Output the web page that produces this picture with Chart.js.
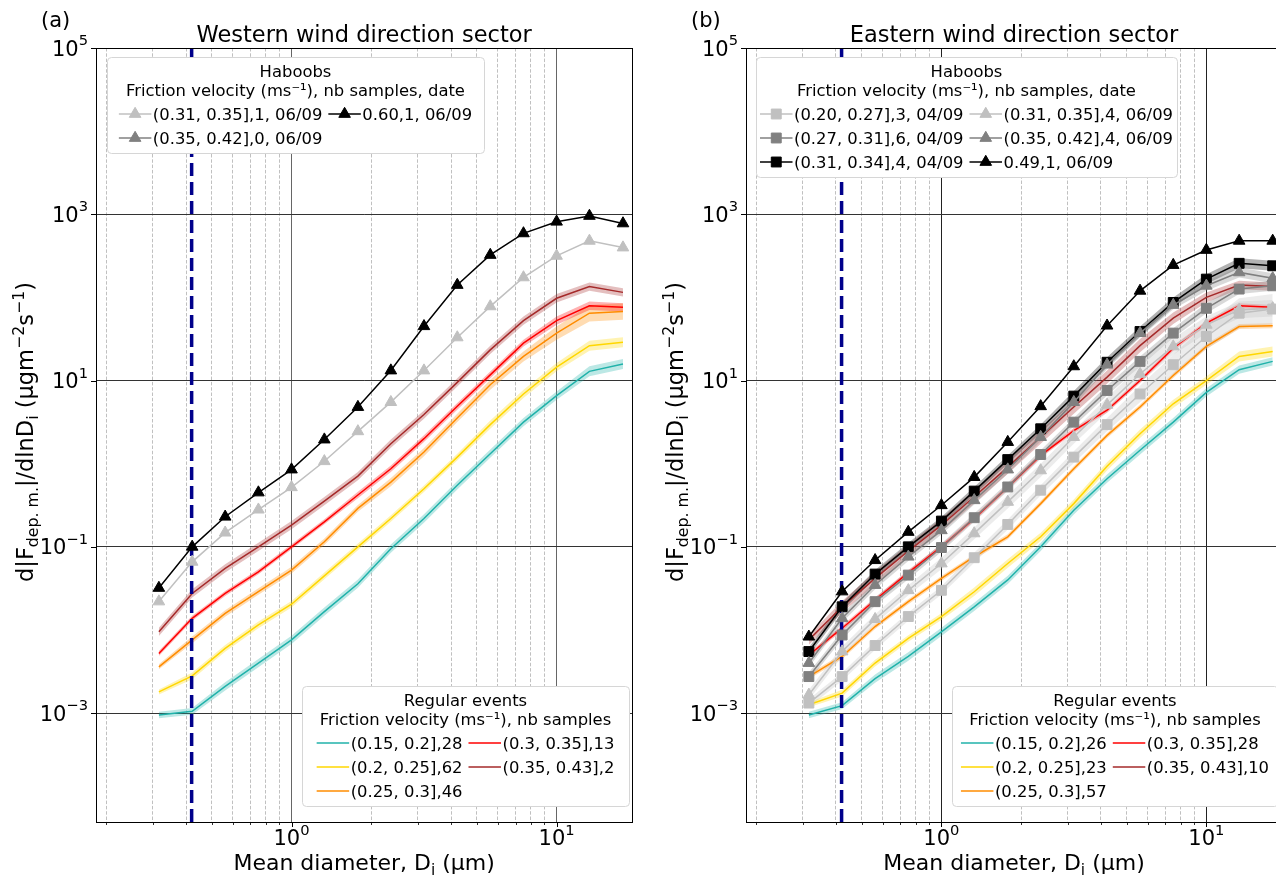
<!DOCTYPE html>
<html>
<head>
<meta charset="utf-8">
<script src="https://cdn.jsdelivr.net/npm/chart.js@4.4.0/dist/chart.umd.min.js"></script>
<style>
html, body { margin: 0; padding: 0; background: #fff; overflow: hidden; width: 1276px; height: 875px; }
#wrap { position: relative; width: 1276px; height: 875px; overflow: hidden; }
#west { position: absolute; left: 0; top: 0; }
#east { position: absolute; left: 640px; top: 0; }
</style>
</head>
<body>
<div id="wrap">
  <canvas id="west" width="640" height="875"></canvas>
  <canvas id="east" width="650" height="875"></canvas>
</div>
<script>
// size bins, mean diameter (µm)
var diam = [0.316, 0.422, 0.562, 0.750, 1.00, 1.33, 1.78, 2.37, 3.16, 4.22, 5.62, 7.50, 10.0, 13.3, 17.8];
var cutoff = 0.42;

var xTicksMajor = [1, 10];
var xTicksMinor = [0.2, 0.3, 0.4, 0.5, 0.6, 0.7, 0.8, 0.9, 2, 3, 4, 5, 6, 7, 8, 9];
var yTicks = [1e-3, 1e-1, 1e1, 1e3, 1e5];
var xRange = [0.183, 19.3];
var yRange = [4.9e-5, 1e5];

// western sector - regular events (mean and band half-width in decades)
var wRegLabels = ['(0.15, 0.2],28', '(0.2, 0.25],62', '(0.25, 0.3],46', '(0.3, 0.35],13', '(0.35, 0.43],2'];
var wTeal   = [0.00095, 0.00105, 0.0021, 0.004, 0.0076, 0.0166, 0.036, 0.095, 0.219, 0.55, 1.32, 3.16, 6.6, 12.9, 15.8];
var wGold   = [0.0018, 0.0028, 0.006, 0.0115, 0.0204, 0.0447, 0.10, 0.219, 0.50, 1.2, 2.95, 6.9, 14.5, 26.3, 28.8];
var wOrange = [0.0036, 0.0076, 0.0158, 0.029, 0.0525, 0.115, 0.29, 0.60, 1.38, 3.55, 8.9, 19.5, 37.2, 64.6, 67.6];
var wRed    = [0.0052, 0.0138, 0.0275, 0.050, 0.10, 0.20, 0.42, 0.87, 2.0, 4.9, 11.7, 28.2, 52.5, 79.4, 75.9];
var wBrown  = [0.0095, 0.0275, 0.055, 0.10, 0.182, 0.355, 0.71, 1.74, 3.9, 9.5, 23.4, 52.5, 97.7, 135, 115];
var wTealSd   = [0.04, 0.04, 0.05, 0.05, 0.05, 0.05, 0.05, 0.05, 0.05, 0.05, 0.05, 0.05, 0.05, 0.06, 0.06];
var wGoldSd   = [0.03, 0.04, 0.04, 0.04, 0.04, 0.04, 0.04, 0.04, 0.04, 0.04, 0.05, 0.05, 0.05, 0.06, 0.06];
var wOrangeSd = [0.03, 0.04, 0.04, 0.04, 0.04, 0.04, 0.04, 0.05, 0.05, 0.05, 0.06, 0.06, 0.08, 0.10, 0.10];
var wRedSd    = [0.03, 0.03, 0.03, 0.03, 0.03, 0.03, 0.04, 0.04, 0.04, 0.04, 0.04, 0.04, 0.05, 0.05, 0.05];
var wBrownSd  = [0.05, 0.05, 0.05, 0.05, 0.05, 0.05, 0.05, 0.05, 0.05, 0.05, 0.05, 0.05, 0.05, 0.05, 0.05];

// western sector - haboobs
var wHabLabels = ['(0.31, 0.35],1, 06/09', '(0.35, 0.42],0, 06/09', '0.60,1, 06/09'];
var wHabLight = [0.022, 0.066, 0.148, 0.28, 0.52, 1.07, 2.45, 5.5, 13.2, 33, 78, 174, 316, 479, 398];
var wHabGrey  = [];
var wHabBlack = [0.032, 0.10, 0.23, 0.45, 0.85, 1.95, 4.8, 13.2, 45, 141, 324, 589, 813, 955, 776];

// eastern sector - regular events
var eRegLabels = ['(0.15, 0.2],26', '(0.2, 0.25],23', '(0.25, 0.3],57', '(0.3, 0.35],28', '(0.35, 0.43],10'];
var eTeal   = [0.00095, 0.00123, 0.0026, 0.0048, 0.0095, 0.019, 0.04, 0.10, 0.275, 0.66, 1.45, 3.16, 7.2, 13.5, 17.0];
var eGold   = [0.00126, 0.00174, 0.004, 0.0079, 0.0145, 0.0288, 0.063, 0.132, 0.331, 0.93, 2.29, 5.25, 10, 19.5, 22.4];
var eOrange = [0.00275, 0.0048, 0.011, 0.0219, 0.0417, 0.076, 0.132, 0.331, 0.87, 2.19, 4.8, 11.5, 25.7, 44.7, 45.7];
var eRed    = [0.005, 0.0105, 0.0229, 0.049, 0.10, 0.219, 0.525, 1.26, 2.5, 4.4, 10, 24.5, 49, 79.4, 75.9];
var eBrown  = [0.0076, 0.019, 0.0417, 0.089, 0.182, 0.40, 0.91, 2.09, 4.8, 11.0, 26.3, 56.2, 100, 141, 135];
var eTealSd   = [0.04, 0.04, 0.05, 0.05, 0.05, 0.05, 0.05, 0.05, 0.05, 0.05, 0.05, 0.05, 0.05, 0.05, 0.05];
var eGoldSd   = [0.03, 0.04, 0.04, 0.04, 0.04, 0.05, 0.05, 0.05, 0.05, 0.05, 0.05, 0.05, 0.05, 0.06, 0.06];
var eOrangeSd = [0.03, 0.03, 0.03, 0.03, 0.03, 0.03, 0.03, 0.03, 0.03, 0.03, 0.03, 0.03, 0.03, 0.03, 0.03];
var eRedSd    = [0.03, 0.03, 0.03, 0.03, 0.03, 0.03, 0.03, 0.03, 0.03, 0.03, 0.03, 0.03, 0.03, 0.03, 0.03];
var eBrownSd  = [0.06, 0.07, 0.08, 0.08, 0.08, 0.08, 0.08, 0.08, 0.08, 0.08, 0.08, 0.07, 0.06, 0.05, 0.05];

// eastern sector - haboobs
var eHabLabels = ['(0.20, 0.27],3, 04/09', '(0.27, 0.31],6, 04/09', '(0.31, 0.34],4, 04/09',
                  '(0.31, 0.35],4, 06/09', '(0.35, 0.42],4, 06/09', '0.49,1, 06/09'];
var eSqLight  = [0.00132, 0.00275, 0.0065, 0.0145, 0.030, 0.074, 0.186, 0.48, 1.2, 2.95, 6.9, 15.5, 33.9, 64.6, 72.4];
var eSqGrey   = [0.00275, 0.0087, 0.0219, 0.0457, 0.098, 0.224, 0.525, 1.29, 3.16, 7.6, 17.0, 37.2, 74, 126, 138];
var eSqBlack  = [0.0055, 0.019, 0.047, 0.10, 0.204, 0.468, 1.12, 2.63, 6.5, 16.6, 38.9, 87, 166, 257, 240];
var eTriLight = [0.00166, 0.0055, 0.0135, 0.030, 0.063, 0.145, 0.347, 0.83, 2.09, 5.1, 12.0, 25.7, 46.8, 70.8, 74.1];
var eTriGrey  = [0.004, 0.0138, 0.0347, 0.076, 0.158, 0.363, 0.85, 2.09, 5.5, 15.5, 37.2, 81, 138, 200, 170];
var eTriBlack = [0.0083, 0.029, 0.069, 0.151, 0.316, 0.69, 1.82, 4.9, 14.8, 45.7, 120, 245, 372, 479, 479];
var eSqLightSd  = [0.05, 0.05, 0.05, 0.05, 0.05, 0.06, 0.06, 0.06, 0.07, 0.08, 0.10, 0.12, 0.15, 0.18, 0.18];
var eSqGreySd   = [0.05, 0.05, 0.05, 0.05, 0.05, 0.05, 0.05, 0.05, 0.05, 0.06, 0.06, 0.06, 0.06, 0.06, 0.06];
var eSqBlackSd  = [0.05, 0.05, 0.05, 0.05, 0.05, 0.05, 0.05, 0.05, 0.06, 0.06, 0.06, 0.06, 0.06, 0.06, 0.06];
var eTriLightSd = [0.06, 0.06, 0.06, 0.06, 0.07, 0.07, 0.08, 0.08, 0.08, 0.09, 0.10, 0.10, 0.10, 0.10, 0.10];
var eTriGreySd  = [0.05, 0.05, 0.05, 0.05, 0.05, 0.05, 0.05, 0.05, 0.05, 0.05, 0.05, 0.05, 0.06, 0.06, 0.06];

var FONT = '"DejaVu Sans", sans-serif';

// line styles
var sTeal   = { color: '#20b2aa', rgb: '32,178,170', lw: 1.5 };
var sGold   = { color: '#ffd700', rgb: '255,215,0', lw: 1.5 };
var sOrange = { color: '#ff8c00', rgb: '255,140,0', lw: 1.5 };
var sRed    = { color: '#ff0000', rgb: '255,0,0', lw: 1.5 };
var sBrown  = { color: '#a52a2a', rgb: '165,42,42', lw: 1.5 };
var sLightTri = { color: '#c0c0c0', rgb: '192,192,192', lw: 1.5, marker: 'triangle', r: 6.7 };
var sGreyTri  = { color: '#808080', rgb: '128,128,128', lw: 1.5, marker: 'triangle', r: 6.7 };
var sBlackTri = { color: '#000000', rgb: '0,0,0', lw: 1.5, marker: 'triangle', r: 6.7 };
var sLightSq  = { color: '#c0c0c0', rgb: '192,192,192', lw: 1.5, marker: 'rect', r: 7 };
var sGreySq   = { color: '#808080', rgb: '128,128,128', lw: 1.5, marker: 'rect', r: 7 };
var sBlackSq  = { color: '#000000', rgb: '0,0,0', lw: 1.5, marker: 'rect', r: 7 };

function pts(vals) {
  return vals.map(function (v, i) { return { x: diam[i], y: v }; });
}

function lineSet(vals, st) {
  return {
    data: pts(vals), borderColor: st.color, backgroundColor: st.color, borderWidth: st.lw,
    pointRadius: st.marker ? st.r : 0, pointStyle: st.marker || 'circle',
    pointBackgroundColor: st.color, pointBorderColor: st.color, pointBorderWidth: 1,
    fill: false, tension: 0
  };
}

// std band drawn as two invisible lines filled in between
function bandSets(vals, sd, st, idx) {
  var lo = vals.map(function (v, i) { return v / Math.pow(10, sd[i]); });
  var hi = vals.map(function (v, i) { return v * Math.pow(10, sd[i]); });
  return [
    { data: pts(lo), borderWidth: 0, pointRadius: 0, fill: false, borderColor: 'rgba(0,0,0,0)' },
    { data: pts(hi), borderWidth: 0, pointRadius: 0, borderColor: 'rgba(0,0,0,0)',
      fill: { target: idx }, backgroundColor: 'rgba(' + st.rgb + ',0.3)' }
  ];
}

function cutoffSet() {
  return {
    data: [{ x: cutoff, y: yRange[0] }, { x: cutoff, y: yRange[1] }],
    borderColor: '#00008b', borderWidth: 3.5, borderDash: [13, 6], pointRadius: 0, fill: false
  };
}

// bands first, then regular lines, cutoff line, haboob lines on top
function buildSets(bands, lines) {
  var sets = [];
  bands.forEach(function (b) {
    var two = bandSets(b[0], b[1], b[2], sets.length);
    sets.push(two[0], two[1]);
  });
  lines.forEach(function (l) { sets.push(l === 'cutoff' ? cutoffSet() : lineSet(l[0], l[1])); });
  sets.forEach(function (s, i) { s.order = 1000 - i; });
  return sets;
}

function drawPow(ctx, exp, x, y, align) {
  ctx.font = '21px ' + FONT;
  var wb = ctx.measureText('10').width;
  ctx.font = '14.7px ' + FONT;
  var we = ctx.measureText(exp).width;
  var x0 = align === 'center' ? x - (wb + we) / 2 : x - (wb + we);
  ctx.textAlign = 'left';
  ctx.font = '21px ' + FONT;
  ctx.fillText('10', x0, y);
  ctx.font = '14.7px ' + FONT;
  ctx.fillText(exp, x0 + wb, y - 10.5);
}

function expStr(v) {
  var e = Math.round(Math.log10(v));
  return (e < 0 ? '\u2212' : '') + Math.abs(e);
}

// text with sub/superscript parts, left aligned at x
function richWidth(ctx, parts, size) {
  var w = 0;
  parts.forEach(function (p) {
    ctx.font = (p[1] ? size * 0.7 : size) + 'px ' + FONT;
    w += ctx.measureText(p[0]).width;
  });
  return w;
}
function drawRich(ctx, parts, x, y, size) {
  var cx = x;
  ctx.textAlign = 'left';
  parts.forEach(function (p) {
    ctx.font = (p[1] ? size * 0.7 : size) + 'px ' + FONT;
    var dy = p[1] === 'sub' ? size * 0.22 : (p[1] === 'sup' ? -size * 0.42 : 0);
    ctx.fillText(p[0], cx, y + dy);
    cx += ctx.measureText(p[0]).width;
  });
}

function drawLegend(ctx, L) {
  var fs = 16.4, handle = 32.5, gap = 1.5, colGap = 6;
  ctx.font = fs + 'px ' + FONT;
  var colW = L.cols.map(function (c) {
    return handle + gap + Math.max.apply(null, c.map(function (e) { return ctx.measureText(e[0]).width; }));
  });
  var block = colW.reduce(function (s, w) { return s + w; }, 0) + colGap * (colW.length - 1);
  var w = L.width;
  var rows = Math.max.apply(null, L.cols.map(function (c) { return c.length; }));
  var h = 57 + (rows - 1) * 24 + 15;
  var x0 = L.left !== undefined ? L.left : L.right - w;
  var y0 = L.top !== undefined ? L.top : L.bottom - h;

  ctx.beginPath();
  ctx.roundRect(x0 + 0.5, y0 + 0.5, w, h, 4);
  ctx.fillStyle = '#ffffff';
  ctx.fill();
  ctx.strokeStyle = '#d6d6d6';
  ctx.lineWidth = 1;
  ctx.stroke();

  ctx.fillStyle = '#000';
  ctx.textAlign = 'center';
  ctx.fillText(L.titles[0], x0 + w / 2, y0 + 19.5);
  ctx.fillText(L.titles[1], x0 + w / 2, y0 + 38.5);

  var cx = x0 + w / 2 - block / 2;
  L.cols.forEach(function (col, ci) {
    col.forEach(function (e, ri) {
      var st = e[1], cy = y0 + 57 + ri * 24;
      ctx.strokeStyle = st.color;
      ctx.fillStyle = st.color;
      ctx.lineWidth = st.lw;
      ctx.beginPath();
      ctx.moveTo(cx, cy);
      ctx.lineTo(cx + handle, cy);
      ctx.stroke();
      if (st.marker) {
        ctx.lineWidth = 1;
        Chart.helpers.drawPoint(ctx, { pointStyle: st.marker, radius: st.r, rotation: 0, borderWidth: 1 }, cx + handle / 2, cy);
      }
      ctx.fillStyle = '#000';
      ctx.textAlign = 'left';
      ctx.font = fs + 'px ' + FONT;
      ctx.fillText(e[0], cx + handle + gap, cy + 5.5);
    });
    cx += colW[ci] + colGap;
  });
}

// frame, ticks, labels, titles and legends in matplotlib fashion
var decor = {
  id: 'decor',
  afterDraw: function (chart, args, o) {
    var ctx = chart.ctx, a = chart.chartArea, xs = chart.scales.x, ys = chart.scales.y;
    ctx.save();
    ctx.strokeStyle = '#000';
    ctx.lineWidth = 1;
    ctx.strokeRect(Math.round(a.left) + 0.5, Math.round(a.top) + 0.5,
                   Math.round(a.right - a.left), Math.round(a.bottom - a.top));

    ctx.fillStyle = '#000';
    ctx.beginPath();
    xTicksMinor.forEach(function (v) {
      var px = Math.round(xs.getPixelForValue(v)) + 0.5;
      ctx.moveTo(px, a.bottom); ctx.lineTo(px, a.bottom + 3);
    });
    ctx.lineWidth = 0.8;
    ctx.stroke();
    ctx.beginPath();
    xTicksMajor.forEach(function (v) {
      var px = Math.round(xs.getPixelForValue(v)) + 0.5;
      ctx.moveTo(px, a.bottom); ctx.lineTo(px, a.bottom + 5);
    });
    yTicks.forEach(function (v) {
      var py = Math.round(ys.getPixelForValue(v)) + 0.5;
      ctx.moveTo(a.left - 5, py); ctx.lineTo(a.left, py);
    });
    ctx.lineWidth = 1;
    ctx.stroke();

    xTicksMajor.forEach(function (v) { drawPow(ctx, expStr(v), xs.getPixelForValue(v), a.bottom + 23, 'center'); });
    yTicks.forEach(function (v) { drawPow(ctx, expStr(v), a.left - 8, ys.getPixelForValue(v) + 7.5, 'right'); });

    var midX = (a.left + a.right) / 2, midY = (a.top + a.bottom) / 2;
    var xl = [['Mean diameter, D'], ['i', 'sub'], [' (\u03bcm)']];
    drawRich(ctx, xl, midX - richWidth(ctx, xl, 22) / 2, 870, 22);

    var yl = [['d|F'], ['dep. m.', 'sub'], ['|/dlnD'], ['i', 'sub'], [' (\u03bcgm'], ['\u22122', 'sup'], ['s'], ['\u22121', 'sup'], [')']];
    ctx.save();
    ctx.translate(a.left - 63, midY - 3);
    ctx.rotate(-Math.PI / 2);
    drawRich(ctx, yl, -richWidth(ctx, yl, 22.5) / 2, 0, 22.5);
    ctx.restore();

    ctx.fillStyle = '#000';
    ctx.textAlign = 'center';
    ctx.font = '22.5px ' + FONT;
    ctx.fillText(o.title, midX, 42);
    ctx.textAlign = 'left';
    ctx.font = '21px ' + FONT;
    ctx.fillText(o.panel, a.left - 55, 27);

    o.legends.forEach(function (L) { drawLegend(ctx, L); });
    ctx.restore();
  }
};

function panelOptions(pad, majorGrid, decorOpts) {
  return {
    responsive: false, animation: false, devicePixelRatio: 1, events: [],
    layout: { padding: pad },
    plugins: { legend: { display: false }, tooltip: { enabled: false }, decor: decorOpts },
    scales: {
      x: {
        type: 'logarithmic', min: xRange[0], max: xRange[1], bounds: 'data',
        afterBuildTicks: function (s) {
          s.ticks = xTicksMinor.map(function (v) { return { value: v, major: false }; })
            .concat(xTicksMajor.map(function (v) { return { value: v, major: true }; }))
            .sort(function (p, q) { return p.value - q.value; });
        },
        ticks: { display: false },
        grid: {
          drawTicks: false,
          color: function (c) { return c.tick && c.tick.major ? majorGrid : '#b0b0b0'; },
          lineWidth: function (c) { return c.tick && c.tick.major ? 1 : 0.8; }
        },
        border: { display: false, dash: function (c) { return c.tick && !c.tick.major ? [3.5, 1.8] : []; } }
      },
      y: {
        type: 'logarithmic', min: yRange[0], max: yRange[1], bounds: 'data',
        afterBuildTicks: function (s) { s.ticks = yTicks.map(function (v) { return { value: v, major: true }; }); },
        ticks: { display: false },
        grid: { drawTicks: false, color: '#333333', lineWidth: 1 },
        border: { display: false }
      }
    }
  };
}

var wSets = buildSets(
  [[wTeal, wTealSd, sTeal], [wGold, wGoldSd, sGold], [wOrange, wOrangeSd, sOrange], [wRed, wRedSd, sRed], [wBrown, wBrownSd, sBrown]],
  [[wTeal, sTeal], [wGold, sGold], [wOrange, sOrange], [wRed, sRed], [wBrown, sBrown], 'cutoff',
   [wHabLight, sLightTri], [wHabGrey, sGreyTri], [wHabBlack, sBlackTri]]
);

new Chart(document.getElementById('west'), {
  type: 'line',
  data: { datasets: wSets },
  options: panelOptions({ left: 96, right: 4, top: 48, bottom: 53 }, 'rgba(0,0,0,0.6)', {
    title: 'Western wind direction sector', panel: '(a)',
    legends: [
      { left: 107, top: 57, width: 377, titles: ['Haboobs', 'Friction velocity (ms\u207b\u00b9), nb samples, date'],
        cols: [[[wHabLabels[0], sLightTri], [wHabLabels[1], sGreyTri]], [[wHabLabels[2], sBlackTri]]] },
      { right: 629, bottom: 806, width: 327, titles: ['Regular events', 'Friction velocity (ms\u207b\u00b9), nb samples'],
        cols: [[[wRegLabels[0], sTeal], [wRegLabels[1], sGold], [wRegLabels[2], sOrange]],
               [[wRegLabels[3], sRed], [wRegLabels[4], sBrown]]] }
    ]
  }),
  plugins: [decor]
});

var eSets = buildSets(
  [[eTeal, eTealSd, sTeal], [eGold, eGoldSd, sGold], [eOrange, eOrangeSd, sOrange], [eRed, eRedSd, sRed], [eBrown, eBrownSd, sBrown],
   [eSqLight, eSqLightSd, sLightSq], [eSqGrey, eSqGreySd, sGreySq], [eSqBlack, eSqBlackSd, sBlackSq],
   [eTriLight, eTriLightSd, sLightTri], [eTriGrey, eTriGreySd, sGreyTri]],
  [[eTeal, sTeal], [eGold, sGold], [eOrange, sOrange], [eRed, sRed], [eBrown, sBrown], 'cutoff',
   [eSqLight, sLightSq], [eSqGrey, sGreySq], [eSqBlack, sBlackSq],
   [eTriLight, sLightTri], [eTriGrey, sGreyTri], [eTriBlack, sBlackTri]]
);

new Chart(document.getElementById('east'), {
  type: 'line',
  data: { datasets: eSets },
  options: panelOptions({ left: 106, right: 4, top: 48, bottom: 53 }, '#222222', {
    title: 'Eastern wind direction sector', panel: '(b)',
    legends: [
      { left: 116, top: 57, width: 421, titles: ['Haboobs', 'Friction velocity (ms\u207b\u00b9), nb samples, date'],
        cols: [[[eHabLabels[0], sLightSq], [eHabLabels[1], sGreySq], [eHabLabels[2], sBlackSq]],
               [[eHabLabels[3], sLightTri], [eHabLabels[4], sGreyTri], [eHabLabels[5], sBlackTri]]] },
      { right: 638, bottom: 806, width: 326, titles: ['Regular events', 'Friction velocity (ms\u207b\u00b9), nb samples'],
        cols: [[[eRegLabels[0], sTeal], [eRegLabels[1], sGold], [eRegLabels[2], sOrange]],
               [[eRegLabels[3], sRed], [eRegLabels[4], sBrown]]] }
    ]
  }),
  plugins: [decor]
});
</script>
</body>
</html>
